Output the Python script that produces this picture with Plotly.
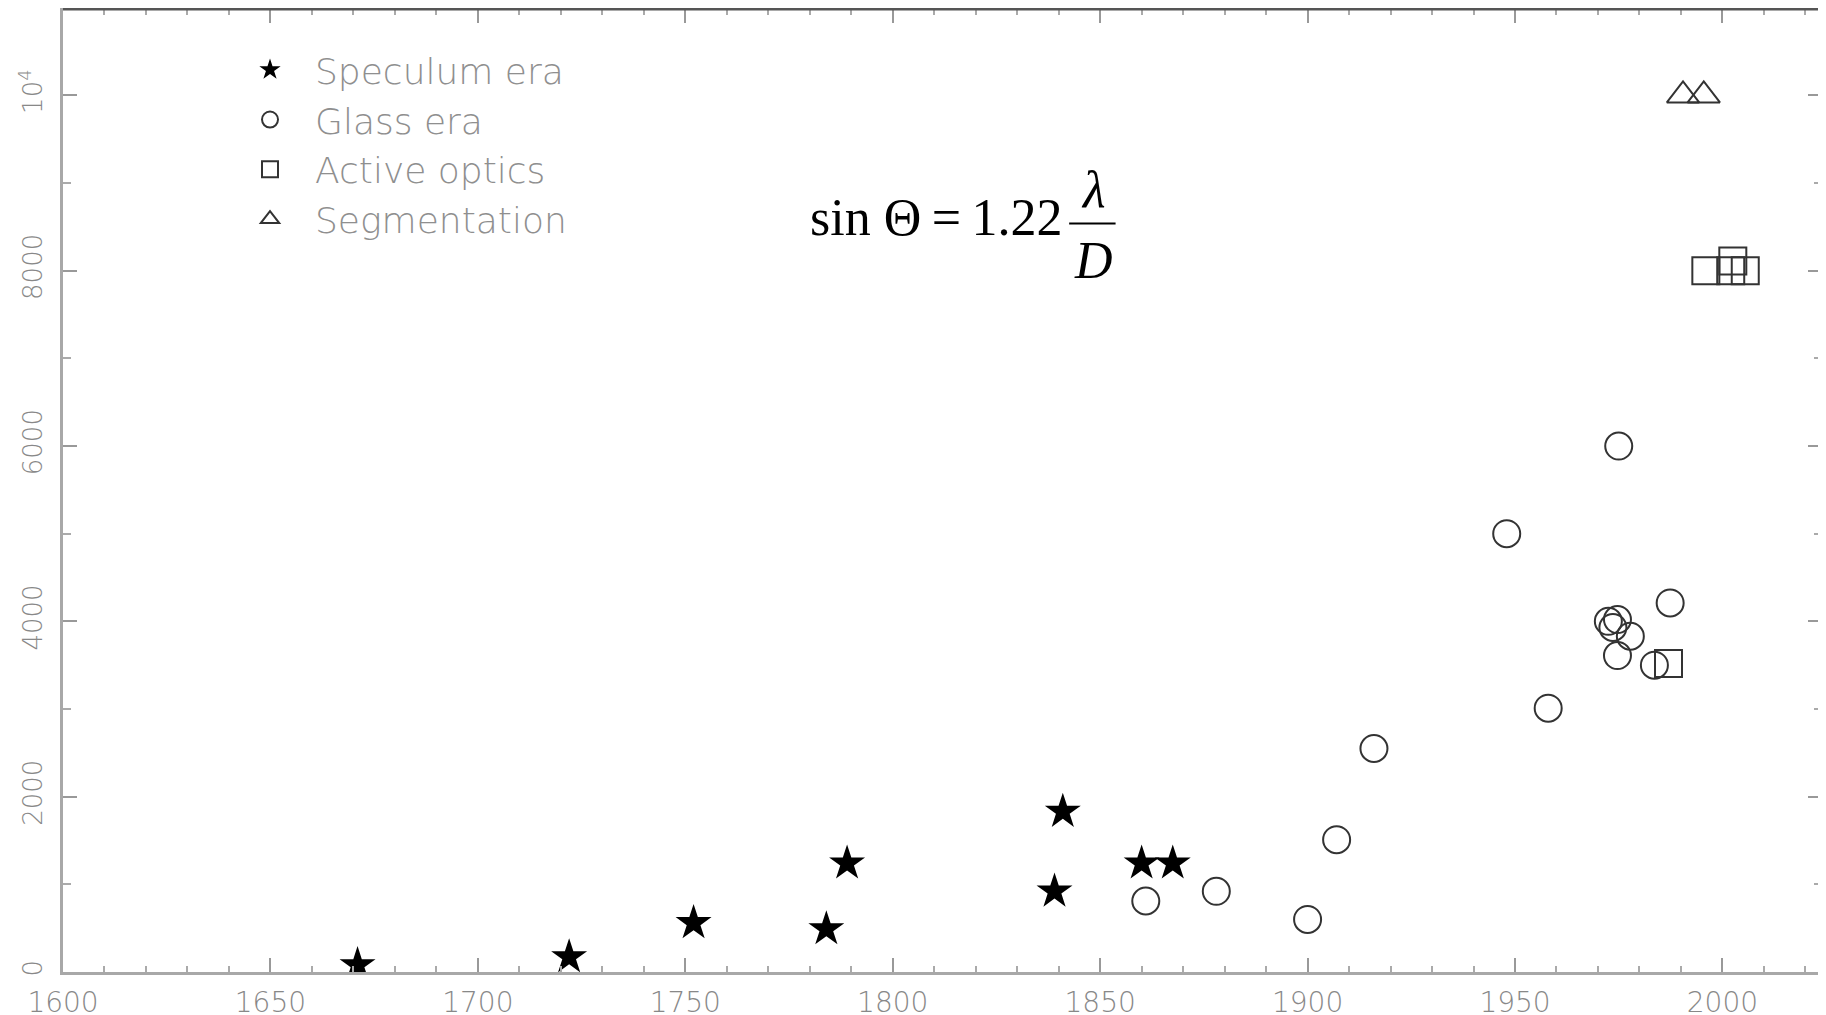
import plotly.graph_objects as go

# ---- data (year, aperture) ----
speculum_years = [1671, 1722, 1752, 1784, 1789, 1839, 1841, 1860, 1867.5]
speculum_diam = [80, 170, 560, 490, 1240, 920, 1830, 1240, 1240]

glass_years = [1861, 1878, 1900, 1907, 1916, 1948, 1958, 1975, 1972.5, 1973.6, 1974.7, 1977.8, 1974.7, 1983.6, 1987.4]
glass_diam = [810, 920, 600, 1510, 2550, 5000, 3010, 6000, 4000, 3930, 4020, 3830, 3610, 3500, 4210]

active_years = [1987, 1996, 2002, 2002.5, 2005.5]
active_diam = [3520, 8000, 8000, 8110, 8000]

seg_years = [1990.5, 1995.5]
seg_diam = [10000, 10000]

series_names = ["Speculum era", "Glass era", "Active optics", "Segmentation"]

y_tickvals = [0, 2000, 4000, 6000, 8000, 10000]
y_ticktext = ["0", "2000", "4000", "6000", "8000", "10<sup>4</sup>"]
y_minorvals = [1000, 3000, 5000, 7000, 9000]
x_tickvals = [1600, 1650, 1700, 1750, 1800, 1850, 1900, 1950, 2000]

fig = go.Figure()
fig.add_trace(go.Scatter(x=speculum_years, y=speculum_diam, mode="markers", name=series_names[0],
                         marker=dict(symbol="star", size=27, color="black", line=dict(width=0))))
fig.add_trace(go.Scatter(x=glass_years, y=glass_diam, mode="markers", name=series_names[1],
                         marker=dict(symbol="circle-open", size=27, color="#333333", line=dict(width=2))))
fig.add_trace(go.Scatter(x=active_years, y=active_diam, mode="markers", name=series_names[2],
                         marker=dict(symbol="square-open", size=27, color="#333333", line=dict(width=2))))
fig.add_trace(go.Scatter(x=seg_years, y=seg_diam, mode="markers", name=series_names[3],
                         marker=dict(symbol="triangle-up-open", size=28, color="#333333", line=dict(width=2))))

axis_common = dict(showgrid=False, zeroline=False, showline=True, linecolor="#a8a8a8", linewidth=3,
                   mirror="ticks", ticks="inside", ticklen=14, tickwidth=2, tickcolor="#999999",
                   automargin=False)

fig.update_xaxes(range=[1600, 2024], tickvals=x_tickvals,
                 tickfont=dict(family="DejaVu Sans", size=28, color="#888888", weight=200),
                 ticklabelstandoff=3,
                 minor=dict(dtick=10, ticks="inside", ticklen=6, tickcolor="#aaaaaa", tickwidth=2),
                 **axis_common)
fig.update_yaxes(range=[0, 10986], tickvals=y_tickvals, ticktext=y_ticktext, tickangle=-90,
                 tickfont=dict(family="DejaVu Sans", size=26, color="#888888", weight=200),
                 ticklabelstandoff=8,
                 minor=dict(tickvals=y_minorvals, ticks="inside", ticklen=8,
                            tickcolor="#aaaaaa", tickwidth=2),
                 **axis_common)

# darker top border
fig.add_shape(type="line", xref="paper", yref="paper", x0=0, x1=1, y0=1, y1=1,
              line=dict(color="#555555", width=3))

# formula
formula_font = dict(family="Liberation Serif", size=52, color="black")
fig.add_annotation(text="sin Θ\u2009=\u20091.22", xref="paper", yref="paper", x=0.4235, y=0.7834,
                   xanchor="left", yanchor="middle", showarrow=False, font=formula_font)
fig.add_annotation(text="<i>λ</i>", xref="paper", yref="paper", x=0.5856, y=0.8125,
                   xanchor="center", yanchor="middle", showarrow=False, font=formula_font)
fig.add_annotation(text="<i>D</i>", xref="paper", yref="paper", x=0.5856, y=0.7392,
                   xanchor="center", yanchor="middle", showarrow=False, font=formula_font)
fig.add_shape(type="line", xref="paper", yref="paper", x0=0.572, x1=0.5984, y0=0.7773, y1=0.7773,
              line=dict(color="black", width=2))

# the page body adds an 8px offset, so margins are reduced accordingly
fig.update_layout(
    width=1826, height=1015,
    margin=dict(l=55, r=12, t=1, b=51, autoexpand=False),
    paper_bgcolor="white", plot_bgcolor="white",
    showlegend=True,
    legend=dict(x=0.0921, y=0.968, xanchor="left", yanchor="top", bgcolor="rgba(0,0,0,0)",
                font=dict(family="DejaVu Sans", size=36, color="#8f8f8f", weight=200),
                tracegroupgap=0, itemwidth=80),
)

fig.write_html("out.html")
